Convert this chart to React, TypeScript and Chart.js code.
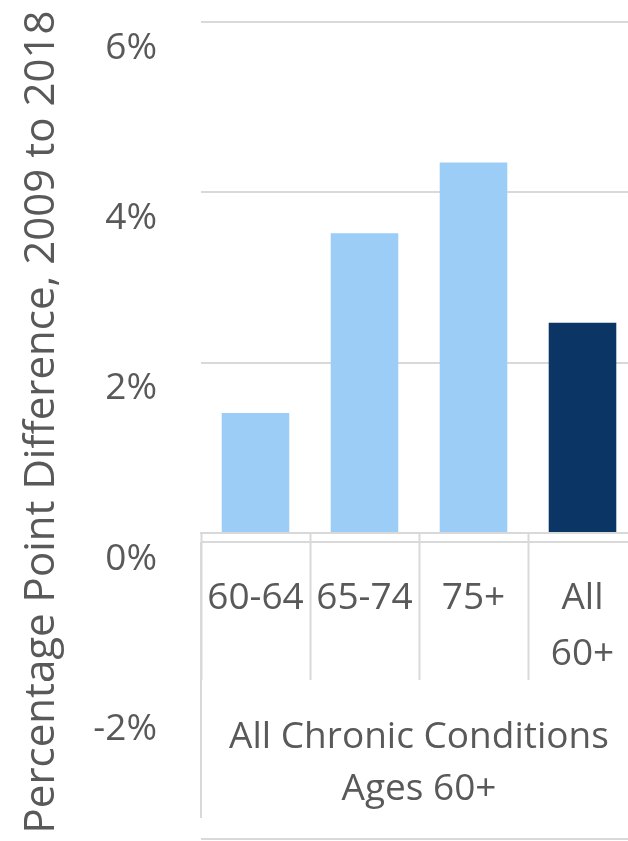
import React, { useEffect, useRef } from "react";
import { Chart, registerables } from "chart.js";

Chart.register(...registerables);

const CATEGORIES: string[][] = [["60-64"], ["65-74"], ["75+"], ["All", "60+"]];
const VALUES: number[] = [1.41, 3.52, 4.35, 2.47];
const BAR_COLORS: string[] = ["#9BCDF6", "#9BCDF6", "#9BCDF6", "#0B3565"];
const Y_TICKS: number[] = [-2, 0, 2, 4, 6];
const Y_TITLE = "Percentage Point Difference, 2009 to 2018";
const GROUP_LABEL: string[] = ["All Chronic Conditions", "Ages 60+"];

const FONT = '"Open Sans", sans-serif';
const TEXT = "#595959";
const GRID = "#D9D9D9";

const decorPlugin = {
  id: "decor",
  afterDraw(chart: any) {
    const { ctx, chartArea } = chart;
    const xs = chart.scales.x;
    const b = chartArea.bottom;
    const l = Math.round(chartArea.left);
    ctx.save();
    ctx.strokeStyle = GRID;
    ctx.lineWidth = 2;
    ctx.beginPath();
    ctx.moveTo(chartArea.left, b + 9);
    ctx.lineTo(chartArea.right, b + 9);
    ctx.moveTo(l, b + 9);
    ctx.lineTo(l, b + 285);
    ctx.moveTo(chartArea.left, xs.bottom - 2);
    ctx.lineTo(chartArea.right, xs.bottom - 2);
    ctx.stroke();
    // y axis title
    ctx.fillStyle = TEXT;
    ctx.font = `42px ${FONT}`;
    ctx.textAlign = "center";
    ctx.textBaseline = "middle";
    ctx.translate(42, 422);
    ctx.rotate(-Math.PI / 2);
    ctx.fillText(Y_TITLE, 0, 0);
    ctx.restore();
  },
};

export default function App() {
  const ref = useRef<HTMLCanvasElement | null>(null);
  useEffect(() => {
    if (!ref.current) return;
    const chart = new Chart(ref.current, {
      type: "bar",
      data: {
        labels: CATEGORIES,
        datasets: [
          {
            data: VALUES,
            backgroundColor: BAR_COLORS,
            borderWidth: 0,
            barPercentage: 0.62,
            categoryPercentage: 1,
          },
        ],
      },
      options: {
        animation: false,
        responsive: true,
        maintainAspectRatio: false,
        layout: { padding: { top: 22, right: 3, bottom: 0, left: 0 } },
        plugins: {
          legend: { display: false },
          tooltip: { enabled: false },
          title: { display: false },
        },
        scales: {
          x: {
            offset: true,
            grid: {
              offset: true,
              drawOnChartArea: false,
              drawTicks: true,
              tickLength: 147,
              tickColor: GRID,
              tickWidth: 2,
              color: GRID,
            },
            border: { display: true, color: GRID, width: 2 },
            ticks: {
              autoSkip: false,
              maxRotation: 0,
              minRotation: 0,
              padding: -110,
              color: TEXT,
              font: { family: FONT, size: 37, lineHeight: 1.52 },
            },
            title: {
              display: true,
              text: GROUP_LABEL,
              color: TEXT,
              font: { family: FONT, size: 37, lineHeight: 1.4 },
              padding: { top: 0, bottom: 26 },
            },
            afterFit(scale: any) {
              scale.height = 308;
            },
          },
          y: {
            min: 0,
            max: 6,
            afterBuildTicks(scale: any) {
              scale.ticks = Y_TICKS.map((v) => ({ value: v }));
            },
            afterFit(scale: any) {
              scale.width = 201;
            },
            grid: {
              color: (c: any) => (c.tick && c.tick.value < 0 ? "rgba(0,0,0,0)" : GRID),
              lineWidth: 2,
              drawTicks: true,
              tickLength: 44,
              tickColor: "rgba(0,0,0,0)",
            },
            border: { display: false },
            ticks: {
              padding: 0,
              labelOffset: 26,
              color: TEXT,
              font: { family: FONT, size: 37, lineHeight: 1 },
              callback: (v: any) => `${v}%`,
            },
          },
        },
      },
      plugins: [decorPlugin],
    });
    return () => chart.destroy();
  }, []);

  return (
    <div
      style={{
        position: "absolute",
        left: 0,
        top: 0,
        width: 628,
        height: 841,
        overflow: "hidden",
        background: "#fff",
      }}
    >
      <div style={{ position: "relative", width: 640, height: 841 }}>
        <canvas ref={ref} />
      </div>
    </div>
  );
}
